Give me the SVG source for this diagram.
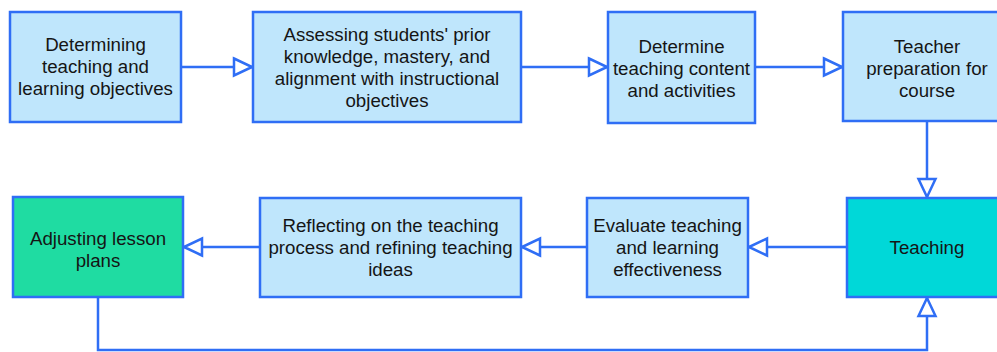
<svg xmlns="http://www.w3.org/2000/svg" width="997" height="352" viewBox="0 0 997 352">
<style>
.n{fill:#bfe6fc;stroke:#2f6ef5;stroke-width:2.5}
.t{font-family:"Liberation Sans",Arial,sans-serif;font-size:18.7px;fill:#151515;text-anchor:middle}
.c{fill:none;stroke:#2f6ef5;stroke-width:2.5}
</style>
<defs>
<marker id="a" markerUnits="userSpaceOnUse" markerWidth="22" markerHeight="22" viewBox="0 0 22 22" refX="20" refY="11" orient="auto">
<path d="M2,2.5 L20,11 L2,19.5 Z" fill="#fff" stroke="#2f6ef5" stroke-width="2.5"/>
</marker>
</defs>
<rect width="997" height="352" fill="#fff"/>
<g id="connectors">
<line class="c" x1="181" y1="67" x2="252" y2="67" marker-end="url(#a)"/>
<line class="c" x1="521" y1="67" x2="607" y2="67" marker-end="url(#a)"/>
<line class="c" x1="755" y1="67" x2="842" y2="67" marker-end="url(#a)"/>
<line class="c" x1="927" y1="121" x2="927" y2="197" marker-end="url(#a)"/>
<line class="c" x1="846" y1="247" x2="749" y2="247" marker-end="url(#a)"/>
<line class="c" x1="587" y1="247" x2="522" y2="247" marker-end="url(#a)"/>
<line class="c" x1="260" y1="247" x2="184" y2="247" marker-end="url(#a)"/>
<polyline class="c" points="98,297 98,350 927,350 927,298" marker-end="url(#a)"/>
</g>
<g id="n1"><rect class="n" x="10" y="12" width="171" height="110"/>
<text class="t" x="95.5" y="51">Determining</text><text class="t" x="95.5" y="73">teaching and</text><text class="t" x="95.5" y="95">learning objectives</text></g>
<g id="n2"><rect class="n" x="253" y="12" width="268" height="110"/>
<text class="t" x="387" y="41">Assessing students' prior</text><text class="t" x="387" y="63">knowledge, mastery, and</text><text class="t" x="387" y="85">alignment with instructional</text><text class="t" x="387" y="107">objectives</text></g>
<g id="n3"><rect class="n" x="608" y="12" width="147" height="111"/>
<text class="t" x="681.5" y="53">Determine</text><text class="t" x="681.5" y="75">teaching content</text><text class="t" x="681.5" y="97">and activities</text></g>
<g id="n4"><rect class="n" x="843" y="12" width="170" height="109"/>
<text class="t" x="927" y="53">Teacher</text><text class="t" x="927" y="75">preparation for</text><text class="t" x="927" y="97">course</text></g>
<g id="n5"><rect x="847" y="198" width="170" height="99" fill="#00d8d8" stroke="#2f6ef5" stroke-width="2.5"/>
<text class="t" x="927" y="254">Teaching</text></g>
<g id="n6"><rect class="n" x="587" y="198" width="161" height="99"/>
<text class="t" x="667.5" y="232">Evaluate teaching</text><text class="t" x="667.5" y="254">and learning</text><text class="t" x="667.5" y="276">effectiveness</text></g>
<g id="n7"><rect class="n" x="260" y="198" width="261" height="99"/>
<text class="t" x="390.5" y="232">Reflecting on the teaching</text><text class="t" x="390.5" y="254">process and refining teaching</text><text class="t" x="390.5" y="276">ideas</text></g>
<g id="n8"><rect x="13" y="197" width="170" height="100" fill="#1fdca2" stroke="#2f6ef5" stroke-width="2.5"/>
<text class="t" x="98" y="245">Adjusting lesson</text><text class="t" x="98" y="267">plans</text></g>
</svg>
